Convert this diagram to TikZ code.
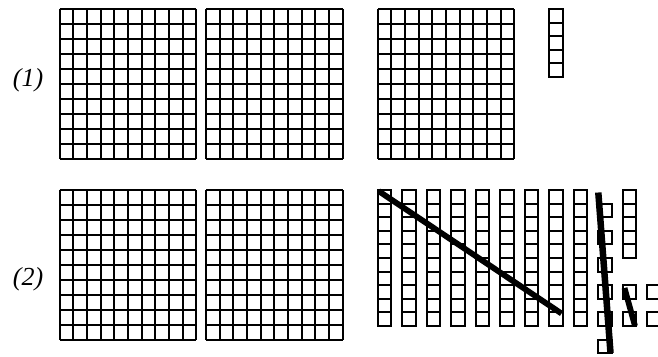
\documentclass[tikz,border=0pt]{standalone}
\usepackage{fontspec}
\setmainfont{Liberation Serif}
\newcommand{\hundredgrid}[2]{%
  \foreach \i in {0,...,10} {%
    \draw[gridline] ({#1+\i*13.65},#2) -- ++(0,150);
    \draw[gridline] (#1,{#2+\i*15}) -- ++(136.5,0);
  }%
}
\newcommand{\unitcells}[3]{%
  \foreach \k in {#3} {%
    \draw[gridline] (#1,{#2+\k*13.6}) rectangle ++(13.6,13.6);
  }%
}
\begin{document}
\begin{tikzpicture}[x=1pt,y=-1pt,
  gridline/.style={line width=2pt, black},
  strike/.style={line width=5.8pt, black},
  lab/.style={font=\fontsize{26}{30}\selectfont\itshape, inner sep=0pt}]
\useasboundingbox (0,0) rectangle (658,356);
\clip (0,0) rectangle (658,356);
% labels
\node[lab] (l1) at (28,80) {(1)};
\node[lab] (l2) at (28,279) {(2)};
% row 1
\hundredgrid{59.7}{9}
\hundredgrid{206}{9}
\hundredgrid{377.8}{9}
\unitcells{549}{9}{0,...,4}
% row 2
\hundredgrid{59.7}{190}
\hundredgrid{206}{190}
\foreach \r in {0,...,8} {
  \unitcells{377.7+\r*24.5}{190}{0,...,9}
}
\unitcells{598.2}{190}{1,3,5,7,9,11}
\unitcells{622.7}{190}{0,...,4}
\unitcells{622.7}{190}{7,9}
\unitcells{647.2}{190}{7,9}
% strike lines
\draw[strike] (378.5,191) -- (561.5,313.5);
\draw[strike, line width=6.5pt] (598.3,192.5) -- (610.5,353);
\draw[strike] (624.5,288) -- (635,326);
\end{tikzpicture}
\end{document}
